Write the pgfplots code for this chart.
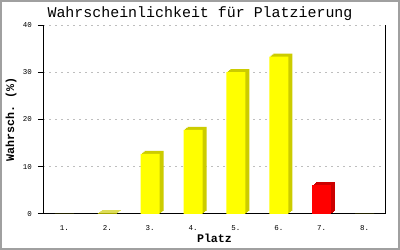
\documentclass[border=0pt]{standalone}
\usepackage{pgfplots}
\pgfplotsset{compat=1.18}
\usepackage{fontspec}
\setmainfont{Liberation Sans}
\setmonofont{Liberation Mono}
\definecolor{ybarc}{RGB}{255,255,0}
\definecolor{yshade}{RGB}{204,204,0}
\definecolor{rbarc}{RGB}{255,0,0}
\definecolor{rshade}{RGB}{204,0,0}
\definecolor{gridc}{RGB}{190,190,190}
\definecolor{framec}{RGB}{160,160,160}
\pgfplotstableread{
x y
2 0.15
3 12.7
4 17.8
5 30.05
6 33.3
}\yellowdata
\pgfplotstableread{
x y
7 6.1
}\reddata
\begin{document}
\begin{tikzpicture}[x=1bp,y=1bp]
\fill[white] (0,0) rectangle (400,250);
\draw[framec, line width=2bp] (1,1) rectangle (399,249);
\node[font=\ttfamily\fontsize{15}{16}\selectfont, anchor=base] at (200,233) {Wahrscheinlichkeit für Platzierung};
\begin{axis}[
  at={(43bp,36bp)}, anchor=south west,
  scale only axis, width=343bp, height=189bp,
  xmin=0.5, xmax=8.5, ymin=0, ymax=40,
  xtick={1,...,8}, xticklabels={1.,2.,3.,4.,5.,6.,7.,8.},
  ytick={0,10,20,30,40},
  ymajorgrids,
  grid style={gridc, dash pattern=on 2bp off 4bp, line width=1bp},
  axis x line*=bottom, axis y line*=box,
  ytick pos=left,
  tick align=outside, major tick length=5bp,
  xtick style={draw=none},
  ytick style={black, line width=1bp},
  axis line style={black, line width=1bp},
  /pgf/number format/assume math mode=true,
  tick label style={font=\ttfamily\fontsize{7.5}{8}\selectfont},
  xticklabel style={anchor=base, yshift=-12bp},
  yticklabel style={anchor=east, inner sep=0pt, xshift=-6bp},
  xlabel={Platz},
  xlabel style={font=\ttfamily\bfseries\fontsize{11.7}{12}\selectfont, at={(axis description cs:0.5,0)}, anchor=base, yshift=-29bp},
  ylabel={Wahrsch. (\%)},
  ylabel style={font=\ttfamily\bfseries\fontsize{11.7}{12}\selectfont, at={(axis description cs:0,0.5)}, anchor=center, yshift=32bp},
  every axis plot/.append style={ybar, bar width=19bp, bar shift=0pt, draw=none},
]
% 3D side (extrusion) of the bars
\addplot[fill=yshade, xshift=1.33bp, yshift=1bp] table {\yellowdata};
\addplot[fill=yshade, xshift=2.67bp, yshift=2bp] table {\yellowdata};
\addplot[fill=yshade, xshift=4bp, yshift=3bp] table {\yellowdata};
\addplot[fill=rshade, xshift=1.33bp, yshift=1bp] table {\reddata};
\addplot[fill=rshade, xshift=2.67bp, yshift=2bp] table {\reddata};
\addplot[fill=rshade, xshift=4bp, yshift=3bp] table {\reddata};
% front faces
\addplot[fill=ybarc] coordinates {(1,0) (2,0.15) (3,12.7) (4,17.8) (5,30.05) (6,33.3) (8,0)};
\addplot[fill=rbarc] table {\reddata};
\end{axis}
\end{tikzpicture}
\end{document}
